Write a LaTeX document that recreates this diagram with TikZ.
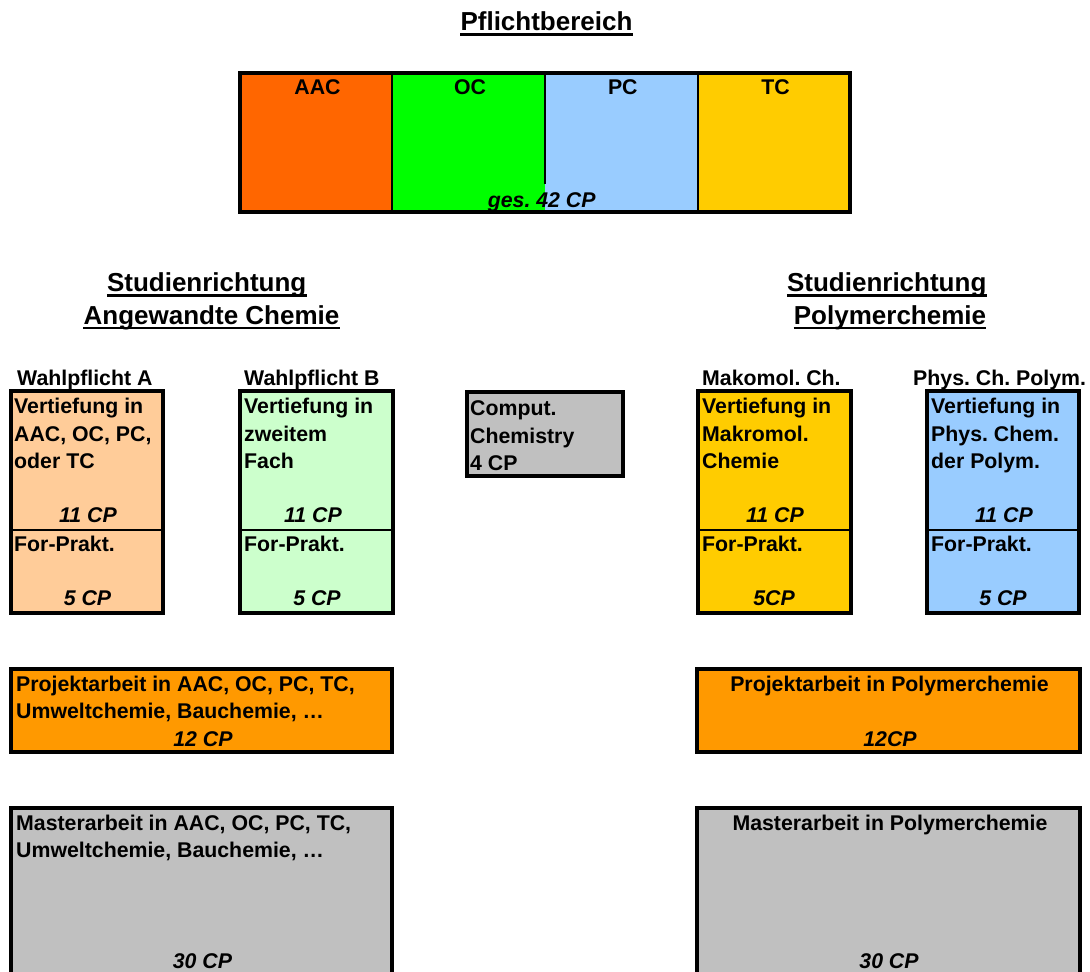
\documentclass[tikz,border=0pt]{standalone}
\usepackage{fontspec}
\setmainfont{Liberation Sans}
\frenchspacing
\definecolor{cAAC}{HTML}{FF6600}
\definecolor{cOC}{HTML}{00FF00}
\definecolor{cPC}{HTML}{99CCFF}
\definecolor{cTC}{HTML}{FFCC00}
\definecolor{cWA}{HTML}{FFCC99}
\definecolor{cWB}{HTML}{CCFFCC}
\definecolor{cGray}{HTML}{C0C0C0}
\definecolor{cProj}{HTML}{FF9900}
\tikzset{
  txt/.style={inner sep=0pt, font=\frenchspacing\fontsize{21.3}{27.5}\selectfont\bfseries},
  cptxt/.style={inner sep=0pt, font=\frenchspacing\fontsize{21.3}{27.5}\selectfont\bfseries\itshape},
  head/.style={inner sep=0pt, font=\fontsize{26}{30}\selectfont\bfseries},
  uline/.style={line width=2.8pt},
  boxline/.style={draw=black, line width=3.2pt},
  divline/.style={draw=black, line width=2.4pt},
}
\begin{document}
\begin{tikzpicture}[x=1pt,y=-1pt]
\useasboundingbox (0,0) rectangle (1090,972);
\clip (0,0) rectangle (1090,972);

% ---------- headings ----------
\node[head, anchor=base] (pfl) at (546.5,30.7) {Pflichtbereich};
\draw[uline] ([yshift=-4pt]pfl.base west) -- ([yshift=-4pt]pfl.base east);

\node[head, anchor=base] (sl1) at (206.7,291.7) {Studienrichtung};
\node[head, anchor=base] (sl2) at (211.5,324) {Angewandte Chemie};
\draw[uline] ([yshift=-4pt]sl1.base west) -- ([yshift=-4pt]sl1.base east);
\draw[uline] ([yshift=-4pt]sl2.base west) -- ([yshift=-4pt]sl2.base east);

\node[head, anchor=base] (sr1) at (886.7,291.7) {Studienrichtung};
\node[head, anchor=base] (sr2) at (890,324) {Polymerchemie};
\draw[uline] ([yshift=-4pt]sr1.base west) -- ([yshift=-4pt]sr1.base east);
\draw[uline] ([yshift=-4pt]sr2.base west) -- ([yshift=-4pt]sr2.base east);

% ---------- Pflichtbereich box ----------
\fill[cAAC] (240,73) rectangle (392,212);
\fill[cOC] (392,73) rectangle (545,212);
\fill[cPC] (545,73) rectangle (698,212);
\fill[cTC] (698,73) rectangle (850,212);
\draw[divline] (392,73) -- (392,212);
\draw[divline] (545,73) -- (545,184);
\draw[divline] (698,73) -- (698,212);
\draw[boxline] (240,73) rectangle (850,212);
\node[txt, anchor=base] (laac) at (317.5,94) {AAC};
\node[txt, anchor=base] (loc) at (470,94) {OC};
\node[txt, anchor=base] (lpc) at (622.8,94) {PC};
\node[txt, anchor=base] (ltc) at (775.5,94) {TC};
\node[cptxt, anchor=base] (ges) at (541.7,207) {ges. 42 CP};

% ---------- Wahlpflicht labels ----------
\node[txt, anchor=base west] (wa) at (17,385) {Wahlpflicht A};
\node[txt, anchor=base west] (wb) at (244,385) {Wahlpflicht B};
\node[txt, anchor=base west] (wm) at (702,385) {Makomol. Ch.};
\node[txt, anchor=base west] (wp) at (913,385) {Phys. Ch. Polym.};

% ---------- Wahlpflicht A ----------
\fill[cWA] (11,391) rectangle (163,613);
\draw[divline] (11,530) -- (163,530);
\draw[boxline] (11,391) rectangle (163,613);
\node[txt, anchor=base west] (a1) at (14,413) {Vertiefung in};
\node[txt, anchor=base west] (a2) at (14,441) {AAC, OC, PC,};
\node[txt, anchor=base west] (a3) at (14,468.5) {oder TC};
\node[cptxt, anchor=base] (a4) at (88,522.7) {11 CP};
\node[txt, anchor=base west] (a5) at (14,551.7) {For-Prakt.};
\node[cptxt, anchor=base] (a6) at (87.5,605) {5 CP};

% ---------- Wahlpflicht B ----------
\fill[cWB] (240,391) rectangle (393,613);
\draw[divline] (240,530) -- (393,530);
\draw[boxline] (240,391) rectangle (393,613);
\node[txt, anchor=base west] (b1) at (244,413) {Vertiefung in};
\node[txt, anchor=base west] (b2) at (244,441) {zweitem};
\node[txt, anchor=base west] (b3) at (244,468.5) {Fach};
\node[cptxt, anchor=base] (b4) at (313,522.7) {11 CP};
\node[txt, anchor=base west] (b5) at (244,551.7) {For-Prakt.};
\node[cptxt, anchor=base] (b6) at (317,605) {5 CP};

% ---------- Comput. Chemistry ----------
\fill[cGray] (467,392) rectangle (623,476);
\draw[boxline] (467,392) rectangle (623,476);
\node[txt, anchor=base west] (c1) at (470,415) {Comput.};
\node[txt, anchor=base west] (c2) at (470,443) {Chemistry};
\node[txt, anchor=base west] (c3) at (470,470) {4 CP};

% ---------- Makromol. ----------
\fill[cTC] (698,391) rectangle (851,613);
\draw[divline] (698,530) -- (851,530);
\draw[boxline] (698,391) rectangle (851,613);
\node[txt, anchor=base west] (m1) at (702,413) {Vertiefung in};
\node[txt, anchor=base west] (m2) at (702,441) {Makromol.};
\node[txt, anchor=base west] (m3) at (702,468.5) {Chemie};
\node[cptxt, anchor=base] (m4) at (775,522.7) {11 CP};
\node[txt, anchor=base west] (m5) at (702,551.7) {For-Prakt.};
\node[cptxt, anchor=base] (m6) at (774,605) {5CP};

% ---------- Phys. Chem. Polym. ----------
\fill[cPC] (927,391) rectangle (1079,613);
\draw[divline] (927,530) -- (1079,530);
\draw[boxline] (927,391) rectangle (1079,613);
\node[txt, anchor=base west] (p1) at (931,413) {Vertiefung in};
\node[txt, anchor=base west] (p2) at (931,441) {Phys. Chem.};
\node[txt, anchor=base west] (p3) at (931,468.5) {der Polym.};
\node[cptxt, anchor=base] (p4) at (1004,522.7) {11 CP};
\node[txt, anchor=base west] (p5) at (931,551.7) {For-Prakt.};
\node[cptxt, anchor=base] (p6) at (1003,605) {5 CP};

% ---------- Projektarbeit ----------
\fill[cProj] (11,669) rectangle (392,752);
\draw[boxline] (11,669) rectangle (392,752);
\node[txt, anchor=base west] (pl1) at (16,691) {Projektarbeit in AAC, OC, PC, TC,};
\node[txt, anchor=base west] (pl2) at (16,718) {Umweltchemie, Bauchemie, …};
\node[cptxt, anchor=base] (pl3) at (203,746) {12 CP};

\fill[cProj] (697,669) rectangle (1080,752);
\draw[boxline] (697,669) rectangle (1080,752);
\node[txt, anchor=base] (pr1) at (889.5,691) {Projektarbeit in Polymerchemie};
\node[cptxt, anchor=base] (pr2) at (890,746) {12CP};

% ---------- Masterarbeit ----------
\fill[cGray] (11,808) rectangle (392,990);
\draw[boxline] (11,808) rectangle (392,990);
\node[txt, anchor=base west] (ml1) at (16,830) {Masterarbeit in AAC, OC, PC, TC,};
\node[txt, anchor=base west] (ml2) at (16,857) {Umweltchemie, Bauchemie, …};
\node[cptxt, anchor=base] (ml3) at (202.5,968) {30 CP};

\fill[cGray] (697,808) rectangle (1080,990);
\draw[boxline] (697,808) rectangle (1080,990);
\node[txt, anchor=base] (mr1) at (890,830) {Masterarbeit in Polymerchemie};
\node[cptxt, anchor=base] (mr2) at (889,968) {30 CP};
\end{tikzpicture}
\end{document}
